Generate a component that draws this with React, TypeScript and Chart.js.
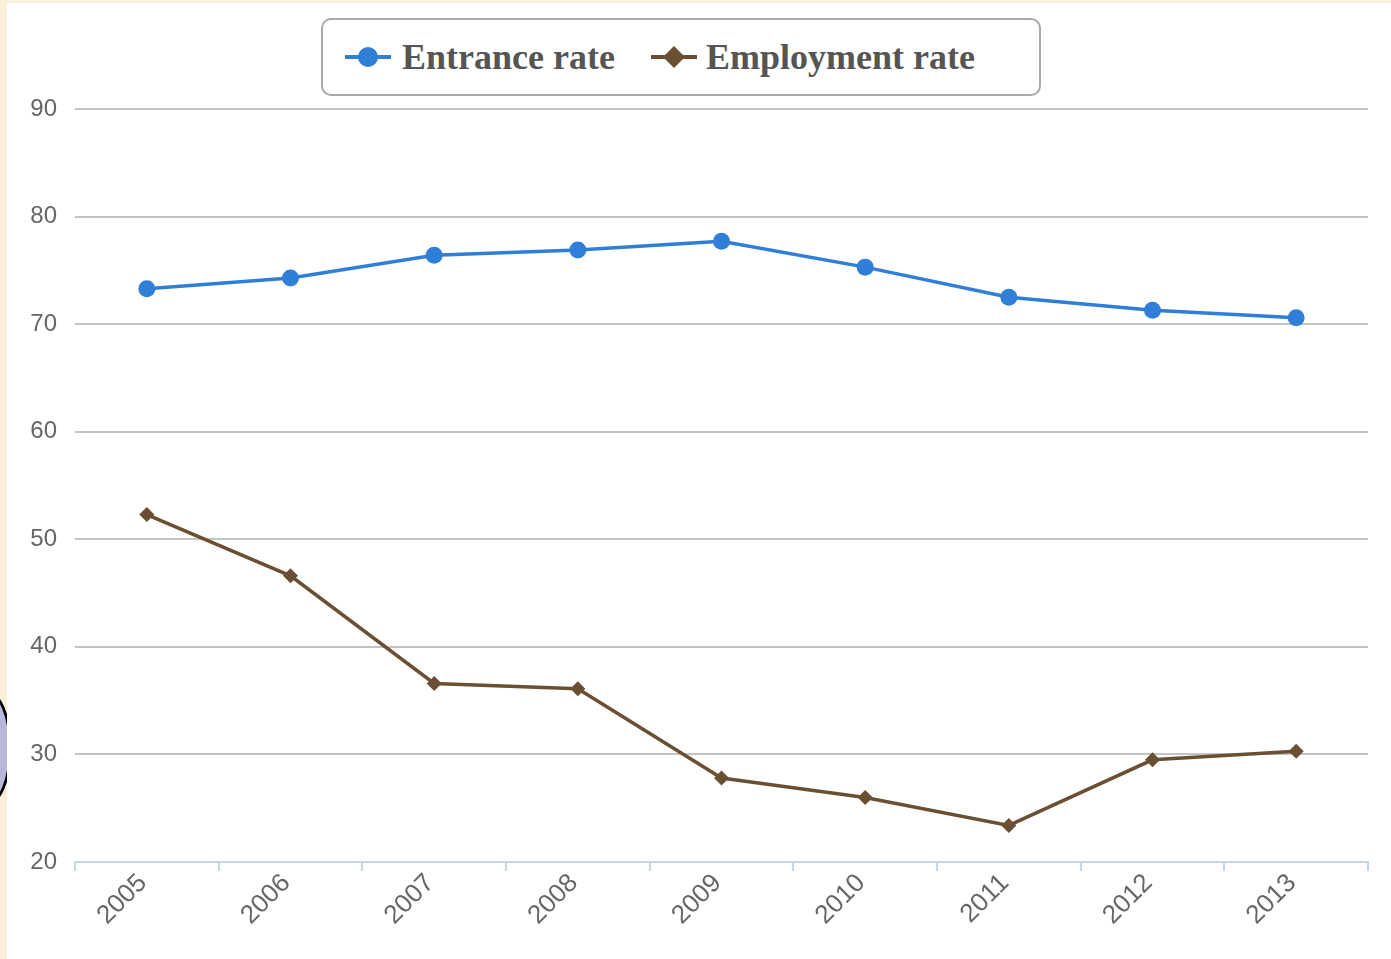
import React, { useEffect, useRef } from "react";
import { Chart, registerables } from "chart.js";

Chart.register(...registerables);

const years = ["2005", "2006", "2007", "2008", "2009", "2010", "2011", "2012", "2013"];
const entranceRate = [73.3, 74.3, 76.4, 76.9, 77.7, 75.3, 72.5, 71.3, 70.6];
const employmentRate = [52.3, 46.6, 36.6, 36.1, 27.8, 26.0, 23.4, 29.5, 30.3];
const seriesNames = ["Entrance rate", "Employment rate"];
const yMin = 20;
const yMax = 90;
const yStep = 10;

const BLUE = "#2f7ed8";
const BROWN = "#6b4f33";

export default function App() {
  const ref = useRef<HTMLCanvasElement | null>(null);

  useEffect(() => {
    document.body.style.margin = "0";
    const ctx = ref.current!.getContext("2d")!;
    const chart = new Chart(ctx, {
      type: "line",
      data: {
        labels: years,
        datasets: [
          {
            label: seriesNames[0],
            data: entranceRate,
            borderColor: BLUE,
            backgroundColor: BLUE,
            borderWidth: 3.5,
            pointRadius: 8.5,
            pointBorderWidth: 0,
            pointStyle: "circle",
            tension: 0,
          },
          {
            label: seriesNames[1],
            data: employmentRate,
            borderColor: BROWN,
            backgroundColor: BROWN,
            borderWidth: 3.5,
            pointRadius: 7.5,
            pointBorderWidth: 0,
            pointStyle: "rectRot",
            tension: 0,
          },
        ],
      },
      options: {
        responsive: false,
        animation: false,
        layout: { padding: { left: 0, right: 23, top: 106, bottom: 0 } },
        plugins: {
          legend: { display: false },
          tooltip: { enabled: false },
        },
        scales: {
          x: {
            offset: true,
            grid: {
              offset: true,
              drawOnChartArea: false,
              drawTicks: true,
              tickLength: 9,
              color: "#c6d5e6",
              lineWidth: 2,
            },
            border: { display: true, color: "#c6d5e6", width: 2 },
            ticks: {
              minRotation: 45,
              maxRotation: 45,
              padding: -3,
              labelOffset: -4,
              color: "#666",
              font: { family: "'Liberation Sans', Arial, sans-serif", size: 26 },
            },
            afterFit: (scale: any) => {
              scale.height = 97;
            },
          },
          y: {
            min: yMin,
            max: yMax,
            grid: { color: "#c4c4c4", lineWidth: 2, drawTicks: false },
            border: { display: false },
            ticks: {
              stepSize: yStep,
              padding: 18,
              color: "#666",
              font: { family: "'Liberation Sans', Arial, sans-serif", size: 24 },
            },
            afterFit: (scale: any) => {
              scale.width = 75 - 7;
            },
          },
        },
      },
    });
    return () => chart.destroy();
  }, []);

  return (
    <div
      style={{
        position: "fixed",
        left: 0,
        top: 0,
        width: 1391,
        height: 959,
        background: "#fcefd9",
        overflow: "hidden",
      }}
    >
      <div
        style={{
          position: "absolute",
          left: -40,
          top: 690,
          width: 46,
          height: 110,
          borderRadius: "50%",
          background: "#b8b8dc",
          border: "3px solid #000",
        }}
      />
      <div
        style={{
          position: "absolute",
          left: 7,
          top: 3,
          width: 1384,
          height: 956,
          background: "#ffffff",
        }}
      >
        <canvas ref={ref} width={1384} height={956} style={{ display: "block" }} />
        <div
          style={{
            position: "absolute",
            left: 314,
            top: 15,
            width: 720,
            height: 78,
            border: "2px solid #a8a8a8",
            borderRadius: 10,
            boxSizing: "border-box",
            background: "#fff",
            display: "flex",
            alignItems: "center",
            fontFamily: "'Liberation Serif', 'Times New Roman', serif",
            fontWeight: "bold",
            fontSize: 36,
            color: "#555",
          }}
        >
          <svg width={50} height={30} style={{ marginLeft: 20 }}>
            <line x1={2} y1={15} x2={48} y2={15} stroke={BLUE} strokeWidth={4} />
            <circle cx={25} cy={15} r={10} fill={BLUE} />
          </svg>
          <span style={{ marginLeft: 9 }}>{seriesNames[0]}</span>
          <svg width={50} height={30} style={{ marginLeft: 34 }}>
            <line x1={2} y1={15} x2={48} y2={15} stroke={BROWN} strokeWidth={4} />
            <polygon points="25,4 36,15 25,26 14,15" fill={BROWN} />
          </svg>
          <span style={{ marginLeft: 7 }}>{seriesNames[1]}</span>
        </div>
      </div>
    </div>
  );
}
